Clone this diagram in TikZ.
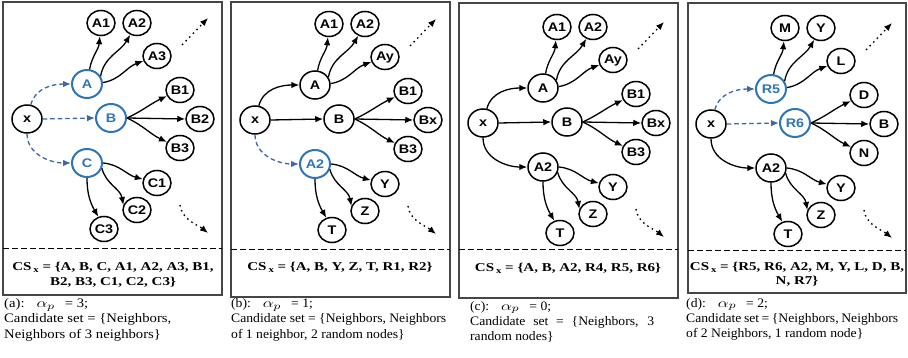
\documentclass[tikz,border=0pt]{standalone}
\usepackage{graphicx}
\usepackage{fontspec}
\setmainfont{Liberation Serif}
\newfontfamily\nodefont{Liberation Sans}[FakeStretch=1.15]
\newfontfamily\csfont{Liberation Serif}[FakeStretch=1.25]
\newfontfamily\capfont{Liberation Serif}[FakeStretch=1.05]
\newfontfamily\capfontwide{Liberation Serif}[FakeStretch=1.13]
\usetikzlibrary{arrows.meta,shapes.geometric}
\definecolor{nblue}{RGB}{46,117,182}
\definecolor{dblue}{RGB}{60,104,168}
\definecolor{boxgray}{RGB}{70,70,70}
\newcommand\csx{\,\raisebox{-0.3ex}{\fontsize{8.5}{9}\selectfont x}}
\newcommand\ap{\scalebox{1.45}[1.1]{$\alpha_p$}}
\tikzset{
  leaf/.style={ellipse, draw=black, line width=1.5pt, minimum width=28pt, minimum height=25pt,
    inner sep=0pt, font=\nodefont\bfseries\fontsize{12.5}{14}\selectfont},
  hub/.style={leaf, minimum width=30pt, minimum height=28pt},
  bhub/.style={hub, draw=nblue, text=nblue, line width=2pt},
  arr/.style={-{Latex[length=8pt,width=6.5pt]}, line width=1.3pt},
  darr/.style={arr, color=dblue, dash pattern=on 4.5pt off 3pt},
  dots/.style={arr, dash pattern=on 1.6pt off 3.6pt},
  panelbox/.style={draw=boxgray, line width=1.2pt},
  sepline/.style={draw=black, line width=1pt, dash pattern=on 6pt off 3pt},
  cstext/.style={font=\csfont\bfseries\fontsize{12}{14}\selectfont, inner sep=0pt, anchor=base},
  captext/.style={font=\capfont\fontsize{13}{15}\selectfont, inner sep=0pt, anchor=base west},
  captextw/.style={captext, font=\capfontwide\fontsize{13}{15}\selectfont},
}
\newcommand\panelEdges[4]{%
  \draw[#2] (#1x.75) to[out=75,in=180] (#1T.west);
  \draw[#3] (#1x.east) -- (#1M.west);
  \draw[#4] (#1x.south) to[out=-90,in=180] (#1B.west);
  \draw[arr] (#1T.80) to[out=80,in=-95] (#1t1.-95);
  \draw[arr] (#1T.30) to[out=80,in=-120] (#1t2.-120);
  \draw[arr] (#1T.5) to[out=10,in=200] (#1t3.200);
  \draw[arr] (#1M.east) to[out=25,in=205] (#1m1.205);
  \draw[arr] (#1M.east) -- (#1m2.west);
  \draw[arr] (#1M.east) to[out=-25,in=155] (#1m3.155);
  \draw[arr] (#1B.east) to[out=-5,in=165] (#1b1.165);
  \draw[arr] (#1B.-20) to[out=-75,in=100] (#1b2.160);
  \draw[arr] (#1B.south) to[out=-90,in=120] (#1b3.115);
  \draw[dots] (#1d1s) -- (#1d1e);
  \draw[dots] (#1d2s) .. controls +(2,-15) and +(-10,8) .. (#1d2e);
}
\newcommand\panelCoords[1]{%
  \coordinate (#1d1s) at (182,-45);
  \coordinate (#1d1e) at (208,-18);
  \coordinate (#1d2s) at (180,-205);
  \coordinate (#1d2e) at (208,-233);
}
\begin{document}
\begin{tikzpicture}[x=1pt,y=1pt]
\useasboundingbox (0,0) rectangle (908,-358);
% ---------- boxes ----------
\draw[panelbox] (3,-2) rectangle (222,-295);
\draw[panelbox] (231,-2) rectangle (450,-297);
\draw[panelbox] (459,-3) rectangle (678,-298);
\draw[panelbox] (688,-3) rectangle (906,-293);
\draw[sepline] (3,-249) -- (222,-249);
\draw[sepline] (231,-250) -- (450,-250);
\draw[sepline] (459,-250) -- (678,-250);
\draw[sepline] (688,-251) -- (906,-251);
% ---------- panel (a) ----------
\begin{scope}[shift={(0,0)}]
  \node[hub] (ax) at (27,-119) {x};
  \node[bhub] (aT) at (87,-84) {A};
  \node[bhub] (aM) at (111,-118) {B};
  \node[bhub] (aB) at (87,-163) {C};
  \node[leaf] (at1) at (101,-23) {A1};
  \node[leaf] (at2) at (137,-23) {A2};
  \node[leaf] (at3) at (157,-56) {A3};
  \node[leaf] (am1) at (180,-90) {B1};
  \node[leaf] (am2) at (200,-119) {B2};
  \node[leaf] (am3) at (180,-148) {B3};
  \node[leaf] (ab1) at (157,-183) {C1};
  \node[leaf] (ab2) at (137,-210) {C2};
  \node[leaf] (ab3) at (104,-229) {C3};
  \panelCoords{a}
  \panelEdges{a}{darr}{darr}{darr}
\end{scope}
% ---------- panel (b) ----------
\begin{scope}[shift={(228,-1)}]
  \node[hub] (bx) at (27,-119) {x};
  \node[hub] (bT) at (87,-84) {A};
  \node[hub] (bM) at (111,-118) {B};
  \node[bhub] (bB) at (87,-163) {A2};
  \node[leaf] (bt1) at (101,-23) {A1};
  \node[leaf] (bt2) at (137,-23) {A2};
  \node[leaf] (bt3) at (157,-56) {Ay};
  \node[leaf] (bm1) at (180,-90) {B1};
  \node[leaf] (bm2) at (200,-119) {Bx};
  \node[leaf] (bm3) at (180,-148) {B3};
  \node[leaf] (bb1) at (157,-183) {Y};
  \node[leaf] (bb2) at (137,-210) {Z};
  \node[leaf] (bb3) at (104,-229) {T};
  \panelCoords{b}
  \panelEdges{b}{arr}{arr}{darr}
\end{scope}
% ---------- panel (c) ----------
\begin{scope}[shift={(456,-4)}]
  \node[hub] (cx) at (27,-119) {x};
  \node[hub] (cT) at (87,-84) {A};
  \node[hub] (cM) at (111,-118) {B};
  \node[hub] (cB) at (87,-163) {A2};
  \node[leaf] (ct1) at (101,-23) {A1};
  \node[leaf] (ct2) at (137,-23) {A2};
  \node[leaf] (ct3) at (157,-56) {Ay};
  \node[leaf] (cm1) at (180,-90) {B1};
  \node[leaf] (cm2) at (200,-119) {Bx};
  \node[leaf] (cm3) at (180,-148) {B3};
  \node[leaf] (cb1) at (157,-183) {Y};
  \node[leaf] (cb2) at (137,-210) {Z};
  \node[leaf] (cb3) at (104,-229) {T};
  \panelCoords{c}
  \panelEdges{c}{arr}{arr}{arr}
\end{scope}
% ---------- panel (d) ----------
\begin{scope}[shift={(684,-5)}]
  \node[hub] (dx) at (27,-119) {x};
  \node[bhub] (dT) at (87,-84) {R5};
  \node[bhub] (dM) at (111,-118) {R6};
  \node[hub] (dB) at (87,-163) {A2};
  \node[leaf] (dt1) at (101,-23) {M};
  \node[leaf] (dt2) at (137,-23) {Y};
  \node[leaf] (dt3) at (157,-56) {L};
  \node[leaf] (dm1) at (180,-90) {D};
  \node[leaf] (dm2) at (200,-119) {B};
  \node[leaf] (dm3) at (180,-148) {N};
  \node[leaf] (db1) at (157,-183) {Y};
  \node[leaf] (db2) at (137,-210) {Z};
  \node[leaf] (db3) at (104,-229) {T};
  \panelCoords{d}
  \panelEdges{d}{darr}{darr}{arr}
\end{scope}
% ---------- candidate set texts ----------
\node[cstext] (acs1) at (113,-271) {CS\csx{} = \{A, B, C, A1, A2, A3, B1,};
\node[cstext] (acs2) at (113,-285) {B2, B3, C1, C2, C3\}};
\node[cstext] (bcs1) at (340,-271) {CS\csx{} = \{A, B, Y, Z, T, R1, R2\}};
\node[cstext] (ccs1) at (568,-272) {CS\csx{} = \{A, B, A2, R4, R5, R6\}};
\node[cstext] (dcs1) at (797,-271) {CS\csx{} = \{R5, R6, A2, M, Y, L, D, B,};
\node[cstext] (dcs2) at (797,-284) {N, R7\}};
% ---------- captions ----------
\node[captextw] (acap1) at (4,-308) {(a):\hspace{12pt}\ap\hspace{10pt}= 3;};
\node[captextw] (acap2) at (4,-323) {Candidate set = \{Neighbors,};
\node[captextw] (acap3) at (4,-338) {Neighbors of 3 neighbors\}};
\node[captext] (bcap1) at (231,-308) {(b):\hspace{12pt}\ap\hspace{10pt}= 1;};
\node[captext] (bcap2) at (231,-323) {\makebox[215pt][s]{Candidate set = \{Neighbors, Neighbors}};
\node[captext] (bcap3) at (231,-338) {of 1 neighbor, 2 random nodes\}};
\node[captext] (ccap1) at (470,-310) {(c):\hspace{12pt}\ap\hspace{10pt}= 0;};
\node[captext] (ccap2) at (470,-325) {\makebox[184pt][s]{Candidate set = \{Neighbors, 3}};
\node[captext] (ccap3) at (470,-340) {random nodes\}};
\node[captext] (dcap1) at (686,-307) {(d):\hspace{12pt}\ap\hspace{10pt}= 2;};
\node[captext] (dcap2) at (686,-322) {\makebox[212pt][s]{Candidate set = \{Neighbors, Neighbors}};
\node[captext] (dcap3) at (686,-337) {of 2 Neighbors, 1 random node\}};
\end{tikzpicture}
\end{document}
